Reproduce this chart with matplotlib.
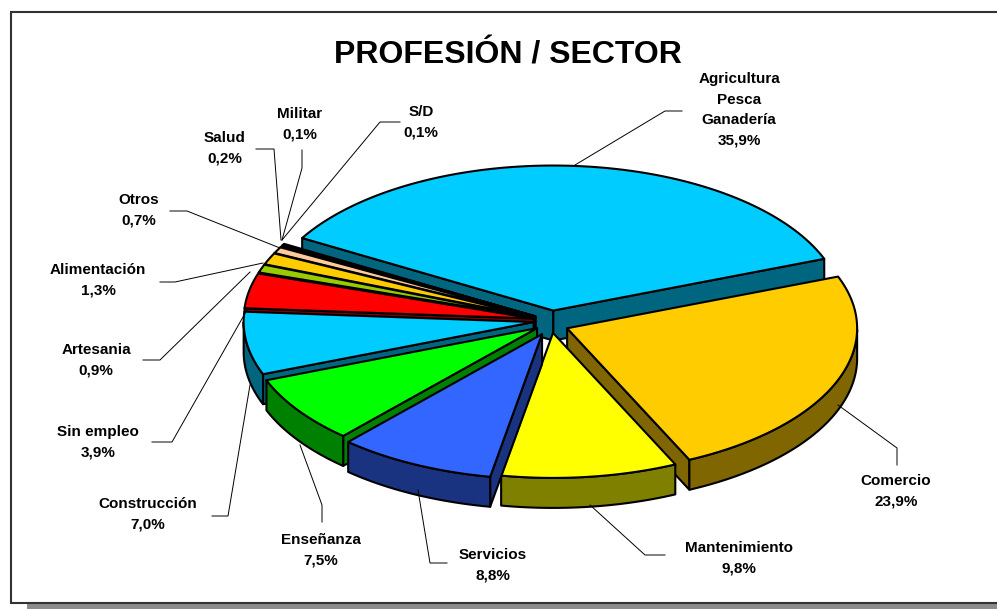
import matplotlib
matplotlib.use('Agg')
import matplotlib.pyplot as plt
import matplotlib.patches as mpatches
import numpy as np

plt.rcParams['font.family'] = ['Liberation Sans', 'DejaVu Sans']

# datos
sectors = ['Agricultura\nPesca\nGanadería', 'Comercio', 'Mantenimiento', 'Servicios', 'Enseñanza',
           'Construcción', 'Sin empleo', 'Artesania', 'Alimentación', 'Otros', 'Salud', 'Militar', 'S/D']
values = [35.9, 23.9, 9.8, 8.8, 7.5, 7.0, 3.9, 0.9, 1.3, 0.7, 0.2, 0.1, 0.1]
value_labels = ['35,9%', '23,9%', '9,8%', '8,8%', '7,5%', '7,0%', '3,9%', '0,9%', '1,3%', '0,7%', '0,2%', '0,1%', '0,1%']
top_colors = ['#00CCFF', '#FFCC00', '#FFFF00', '#3366FF', '#00FF00', '#00CCFF', '#FF0000',
              '#99CC00', '#FFCC00', '#FFCC99', '#000000', '#000000', '#000000']
wall_colors = ['#006680', '#806600', '#808000', '#1A3380', '#008000', '#006680', '#800000',
               '#4D6600', '#806600', '#80664D', '#000000', '#000000', '#000000']
explode = [0.10, 0.06, 0.055, 0.07, 0.05, 0.05, 0.05, 0.05, 0.05, 0.05, 0.05, 0.05, 0.05]
# ajuste fino de la posicion de cada porcion (px)
nudge = [(0, 0), (0, 0), (0, 0), (0, 0), (-2, -1), (-3, -4), (-3, -5), (-3, -5), (-3, -5),
         (-3, -5), (-3, -5), (-3, -5), (-3, -5)]

# posicion de cada rotulo y su linea guia
label_pos = [(739, 110), (896, 491), (739, 558), (493, 565), (321, 550), (148, 514), (98, 442),
             (96, 360), (98, 280), (139, 210), (225, 148), (300, 124), (421, 122)]
leaders = [[(575, 165), (665, 111), (682, 111)],
           [(838, 405), (897, 448), (897, 465)],
           [(590, 505), (645, 555), (665, 555)],
           [(418, 490), (430, 563), (447, 563)],
           [(300, 445), (322, 505), (322, 522)],
           [(250, 385), (228, 516), (212, 516)],
           [(247, 310), (172, 442), (152, 442)],
           [(250, 272), (160, 360), (143, 360)],
           [(263, 263), (175, 282), (160, 282)],
           [(280, 248), (187, 211), (170, 211)],
           [(281, 240), (274, 149), (256, 149)],
           [(282, 240), (302, 168), (302, 150)],
           [(282, 240), (380, 122), (400, 122)]]

START_ANGLE = 150
CX, CY = 551, 325
RX, RY = 290, 145
DEPTH = 30

fig = plt.figure(figsize=(9.97, 6.09), dpi=100)
ax = fig.add_axes([0, 0, 1, 1])
ax.set_xlim(0, 997)
ax.set_ylim(609, 0)
ax.axis('off')

# marco con sombra
ax.add_patch(mpatches.Rectangle((27, 15), 990, 594, facecolor='#8C8C8C', edgecolor='none', zorder=0))
ax.add_patch(mpatches.Rectangle((11, 12), 990, 591, facecolor='white', edgecolor='#333333', linewidth=1.5, zorder=1))

spans = np.array(values) / sum(values) * 360
ends = START_ANGLE - np.cumsum(spans)
starts = ends + spans

# orden de dibujo: de atras hacia delante
draw_order = [0, 12, 11, 10, 9, 8, 7, 6, 5, 4, 1, 2, 3]
z = 2
for i in draw_order:
    t0, t1 = np.radians(starts[i]), np.radians(ends[i])
    mid = (t0 + t1) / 2
    ox = CX + explode[i] * RX * np.cos(mid) + nudge[i][0]
    oy = CY - explode[i] * RY * np.sin(mid) + nudge[i][1]
    t = np.linspace(t0, t1, max(int(spans[i]) * 2, 4))
    rim_x = ox + RX * np.cos(t)
    rim_y = oy - RY * np.sin(t)

    # paredes de los cortes, solo las que miran al frente
    for k, faces_front in ((0, np.cos(t0) < 0), (-1, np.cos(t1) > 0)):
        if not faces_front:
            continue
        wall = [(ox, oy), (rim_x[k], rim_y[k]), (rim_x[k], rim_y[k] + DEPTH), (ox, oy + DEPTH)]
        ax.add_patch(mpatches.Polygon(wall, closed=True, facecolor=wall_colors[i], edgecolor='black',
                                      linewidth=1.5, joinstyle='round', zorder=z))
    # borde exterior, solo la parte que mira al frente
    front = np.sin(t) <= 0
    if front.sum() >= 2:
        fx, fy = rim_x[front], rim_y[front]
        rim = np.r_[np.c_[fx, fy], np.c_[fx[::-1], fy[::-1] + DEPTH]]
        ax.add_patch(mpatches.Polygon(rim, closed=True, facecolor=wall_colors[i], edgecolor='black',
                                      linewidth=1.5, joinstyle='round', zorder=z))
    # cara superior
    top = np.r_[[(ox, oy)], np.c_[rim_x, rim_y]]
    ax.add_patch(mpatches.Polygon(top, closed=True, facecolor=top_colors[i], edgecolor='black',
                                  linewidth=1.5, joinstyle='round', zorder=z))
    z += 1

# lineas guia y rotulos
for i, name in enumerate(sectors):
    xs, ys = zip(*leaders[i])
    ax.plot(xs, ys, color='black', linewidth=0.7, zorder=30)
    ax.text(label_pos[i][0], label_pos[i][1], name + '\n' + value_labels[i], ha='center', va='center',
            fontsize=11, fontweight='bold', linespacing=1.6, zorder=31)

ax.text(508, 55, 'PROFESIÓN / SECTOR', ha='center', va='center', fontsize=23, fontweight='bold', zorder=31)

plt.savefig('out.png', dpi=100)
